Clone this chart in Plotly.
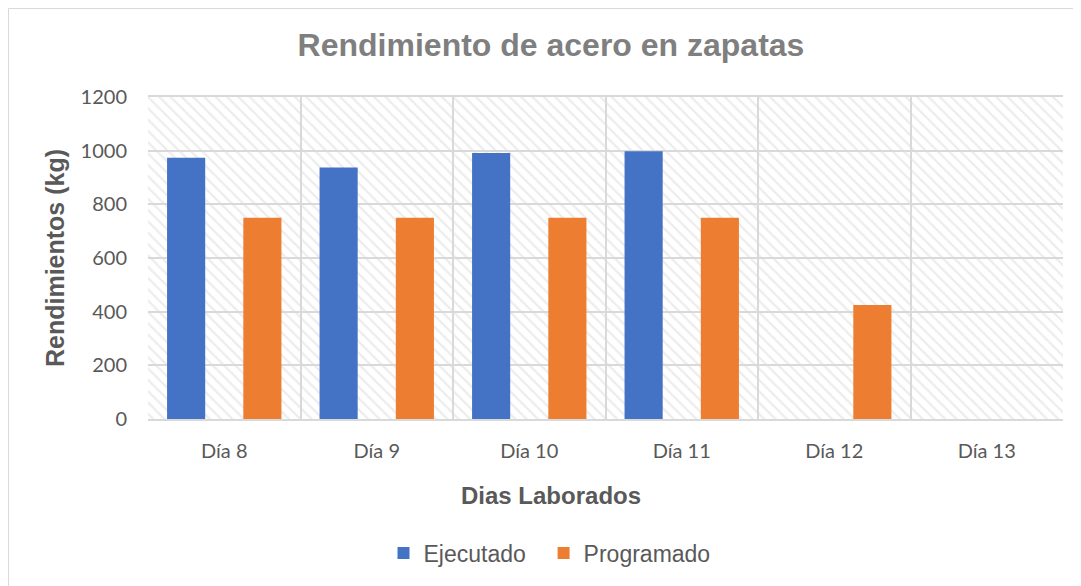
import plotly.graph_objects as go

categories = ["Día 8", "Día 9", "Día 10", "Día 11", "Día 12", "Día 13"]
ejecutado = [974, 937, 991, 998, None, None]
programado = [750, 750, 750, 750, 425, None]
y_ticks = [0, 200, 400, 600, 800, 1000, 1200]

W, H = 1073, 578
L, R, T, B = 140, 18, 89, 167
PW, PH = W - L - R, H - T - B
OFF = 8  # page offset of the figure


def px_x(page_x):
    return (page_x - OFF - L) / PW


def px_y(page_y):
    return -(page_y - OFF - (T + PH)) / PH


fig = go.Figure()

# hatched plot-area background (decorative), on a hidden linear axis
fig.add_trace(go.Bar(
    x=[0.5], y=[1200], width=[1], xaxis="x", yaxis="y",
    marker=dict(color="rgba(0,0,0,0)", line=dict(width=0),
                pattern=dict(shape="\\", fgcolor="#dadada", bgcolor="rgba(0,0,0,0)",
                             size=8, solidity=0.28)),
    showlegend=False, hoverinfo="skip",
))

fig.add_trace(go.Bar(name="Ejecutado\u00a0\u00a0", x=categories, y=ejecutado, xaxis="x2", yaxis="y",
                     marker=dict(color="#4472C4", line=dict(width=0))))
fig.add_trace(go.Bar(name="Programado", x=categories, y=programado, xaxis="x2", yaxis="y",
                     marker=dict(color="#ED7D31", line=dict(width=0))))

fig.update_layout(
    width=W, height=H,
    margin=dict(l=L, r=R, t=T, b=B),
    paper_bgcolor="white", plot_bgcolor="white",
    barmode="group", bargap=0, bargroupgap=0.5,
    title=dict(text="<b>Rendimiento de acero en zapatas</b>", x=543 / W, xanchor="center",
               y=1 - 37 / H, yanchor="middle",
               font=dict(family="Liberation Sans, Arial", size=32, color="#7f7f7f")),
    xaxis=dict(range=[0, 1], visible=False, showgrid=False, zeroline=False),
    xaxis2=dict(overlaying="x", type="category", tickson="boundaries",
                showgrid=True, gridcolor="#d9d9d9", gridwidth=2,
                showline=True, linecolor="#d9d9d9", linewidth=2, mirror=True,
                ticks="", ticklabelstandoff=13,
                tickfont=dict(family="Lato, Open Sans", size=20, color="#595959")),
    yaxis=dict(range=[0, 1200], tickvals=y_ticks, showgrid=True, gridcolor="#d9d9d9", gridwidth=2,
               zeroline=False, showline=False,
               ticks="outside", ticklen=16, tickcolor="rgba(0,0,0,0)",
               tickfont=dict(family="Lato, Open Sans", size=20, color="#595959"),
               title=dict(text="<b>Rendimientos (kg)</b>", standoff=8,
                          font=dict(family="Liberation Sans, Arial", size=25, color="#595959"))),
    legend=dict(orientation="h", x=px_x(549.5), xanchor="center",
                y=px_y(553), yanchor="middle",
                font=dict(family="Liberation Sans, Arial", size=23, color="#595959"),
                traceorder="normal"),
    annotations=[dict(text="<b>Dias Laborados</b>", xref="paper", yref="paper",
                      x=px_x(551), y=px_y(495), xanchor="center", yanchor="middle",
                      showarrow=False,
                      font=dict(family="Liberation Sans, Arial", size=24, color="#595959"))],
    shapes=[dict(type="rect", xref="paper", yref="paper",
                 x0=(0.5 - L) / PW, x1=1.05, y0=-0.6, y1=1 + (T - 0.5) / PH,
                 line=dict(color="#d9d9d9", width=1), fillcolor="rgba(0,0,0,0)", layer="below")],
)

fig.write_html("out.html")
